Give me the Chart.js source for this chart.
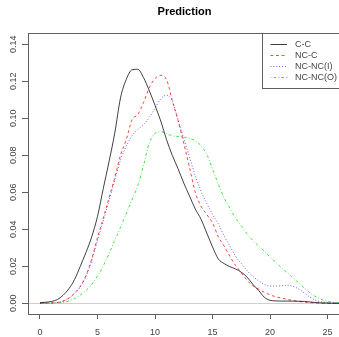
<!DOCTYPE html>
<html>
<head>
<meta charset="utf-8">
<script src="https://cdn.jsdelivr.net/npm/chart.js@4"></script>
<style>
html,body{margin:0;padding:0;background:#fff;overflow:hidden;width:339px;height:337px;}
canvas{display:block;}
</style>
</head>
<body>
<canvas id="c" width="341" height="337" style="width:341px;height:337px"></canvas>
<script>
const title = "Prediction";
const seriesNames = ["C-C", "NC-C", "NC-NC(I)", "NC-NC(O)"];
const xTicks = [0, 5, 10, 15, 20, 25];
const yTicks = [0, 0.02, 0.04, 0.06, 0.08, 0.10, 0.12, 0.14];
const xValues = [0,0.5,1,1.5,2,2.5,3,3.5,4,4.5,5,5.5,6,6.5,7,7.5,8,8.5,9,9.5,10,10.5,11,11.5,12,12.5,13,13.5,14,14.5,15,15.5,16,16.5,17,17.5,18,18.5,19,19.5,20,20.5,21,21.5,22,22.5,23,23.5,24,24.5,25,25.5,26];
const ccValues = [0.0003,0.0006,0.001,0.002,0.0043,0.0078,0.0128,0.020,0.0275,0.036,0.047,0.062,0.0765,0.092,0.111,0.121,0.1262,0.1265,0.122,0.115,0.107,0.0985,0.0885,0.080,0.0728,0.065,0.058,0.051,0.0455,0.038,0.0305,0.024,0.0215,0.0198,0.0186,0.0168,0.0142,0.0103,0.007,0.0033,0.0016,0.0013,0.0012,0.0012,0.0012,0.0011,0.001,0.0007,0.0004,0.0002,0.0001,0.00005,0];
const nccValues = [0,0.0001,0.0002,0.0004,0.0012,0.0028,0.0055,0.0092,0.015,0.024,0.0355,0.046,0.057,0.068,0.08,0.0885,0.0992,0.102,0.1085,0.1165,0.1215,0.1232,0.121,0.1095,0.099,0.0865,0.0735,0.060,0.0525,0.048,0.0435,0.036,0.031,0.0255,0.0205,0.0165,0.0125,0.0095,0.0077,0.006,0.0046,0.0035,0.0028,0.0021,0.0015,0.001,0.0007,0.0004,0.0002,0.0001,0,0,0];
const ncnciValues = [0,0.0001,0.0002,0.0004,0.0011,0.0026,0.0052,0.0088,0.0145,0.0232,0.034,0.0445,0.0555,0.0665,0.0775,0.085,0.0905,0.094,0.0965,0.1005,0.1055,0.1105,0.1125,0.1095,0.099,0.089,0.079,0.069,0.0605,0.054,0.048,0.043,0.0365,0.031,0.0255,0.0215,0.0177,0.0146,0.0122,0.0102,0.0093,0.0093,0.0095,0.0097,0.0092,0.0077,0.0055,0.0032,0.0015,0.0008,0.0004,0.0002,0];
const ncncoValues = [0,0,0.0001,0.0002,0.0004,0.0012,0.0026,0.0045,0.007,0.0102,0.0148,0.0202,0.0268,0.034,0.041,0.0485,0.056,0.0635,0.0745,0.0865,0.0919,0.0927,0.0918,0.0905,0.0902,0.0898,0.0892,0.0878,0.0852,0.0805,0.0725,0.0645,0.057,0.0515,0.046,0.042,0.0375,0.034,0.031,0.0282,0.025,0.0222,0.0192,0.0165,0.0137,0.011,0.0082,0.0055,0.0035,0.002,0.001,0.0005,0.0002];

const seriesValues = [ccValues, nccValues, ncnciValues, ncncoValues];
const colors = ["#000000", "#ff0000", "#0000ff", "#00dd00"];
const dashes = [[], [2.8,2.8], [0.8,2.1], [0.8,2.1,2.8,2.1]];
const FONT = "'Liberation Sans', Arial, sans-serif";

const boxPlugin = {
  id: 'rbox',
  beforeDatasetsDraw(chart) {
    const {ctx, chartArea: a, scales: {y}} = chart;
    const y0 = Math.round(y.getPixelForValue(0)) + 0.5;
    ctx.save();
    ctx.strokeStyle = '#cfcfcf';
    ctx.lineWidth = 1;
    ctx.beginPath(); ctx.moveTo(a.left, y0); ctx.lineTo(a.right, y0); ctx.stroke();
    ctx.restore();
  },
  afterDraw(chart) {
    const {ctx, chartArea: a, scales: {y}} = chart;
    ctx.save();
    // frame
    ctx.strokeStyle = '#606060';
    ctx.lineWidth = 1;
    ctx.strokeRect(Math.round(a.left) + 0.5, Math.round(a.top) + 0.5, Math.round(a.right - a.left), Math.round(a.bottom - a.top));
    // rotated y tick labels
    ctx.fillStyle = '#444';
    ctx.font = '9px ' + FONT;
    ctx.textAlign = 'center';
    ctx.textBaseline = 'middle';
    y.ticks.forEach(t => {
      const py = y.getPixelForValue(t.value);
      ctx.save();
      ctx.translate(14, py);
      ctx.rotate(-Math.PI / 2);
      ctx.fillText(t.value.toFixed(2), 0, 0);
      ctx.restore();
    });
    // legend
    const w = 79, h = 55;
    const lx = Math.round(a.right) - w, ly = Math.round(a.top);
    ctx.fillStyle = '#fff';
    ctx.fillRect(lx, ly, w, h);
    ctx.strokeStyle = '#606060';
    ctx.strokeRect(lx + 0.5, ly + 0.5, w, h);
    ctx.textAlign = 'left';
    chart.data.datasets.forEach((ds, i) => {
      const ry = ly + 11 + i * 11 + 0.5;
      ctx.strokeStyle = ds.borderColor;
      ctx.lineWidth = ds.borderWidth;
      ctx.setLineDash(ds.borderDash || []);
      ctx.beginPath(); ctx.moveTo(lx + 8.5, ry); ctx.lineTo(lx + 25, ry); ctx.stroke();
      ctx.setLineDash([]);
      ctx.fillStyle = '#444';
      ctx.font = '9px ' + FONT;
      ctx.fillText(ds.label, lx + 33, ry);
    });
    ctx.restore();
  }
};

new Chart(document.getElementById('c'), {
  type: 'line',
  data: {
    datasets: seriesNames.map((name, k) => ({
      label: name,
      data: xValues.map((x, i) => ({x: x, y: seriesValues[k][i]})),
      borderColor: colors[k],
      borderDash: dashes[k],
      borderWidth: 0.75,
      pointRadius: 0,
      fill: false,
      cubicInterpolationMode: 'monotone'
    }))
  },
  options: {
    responsive: false,
    devicePixelRatio: 1,
    animation: false,
    layout: {padding: 0},
    plugins: {
      legend: {display: false},
      tooltip: {enabled: false},
      title: {
        display: true,
        text: title,
        fullSize: false,
        color: '#000',
        font: {family: FONT, size: 11, weight: 'bold', lineHeight: 1.2},
        padding: {top: 5, bottom: 14.8}
      }
    },
    scales: {
      x: {
        type: 'linear',
        min: -1.043,
        max: 26.17,
        afterBuildTicks: s => { s.ticks = xTicks.map(v => ({value: v})); },
        afterFit: s => { s.height = 23; },
        border: {display: false},
        grid: {drawOnChartArea: false, drawTicks: true, tickLength: 5, color: '#606060'},
        ticks: {color: '#444', font: {family: FONT, size: 9}, padding: 8, maxRotation: 0, autoSkip: false}
      },
      y: {
        type: 'linear',
        min: -0.00578,
        max: 0.1461,
        afterBuildTicks: s => { s.ticks = yTicks.map(v => ({value: v})); },
        afterFit: s => { s.width = 28; },
        border: {display: false},
        grid: {drawOnChartArea: false, drawTicks: true, tickLength: 6, color: '#606060'},
        ticks: {color: 'rgba(0,0,0,0)', font: {family: FONT, size: 9}, callback: v => v.toFixed(2)}
      }
    }
  },
  plugins: [boxPlugin]
});
</script>
</body>
</html>
